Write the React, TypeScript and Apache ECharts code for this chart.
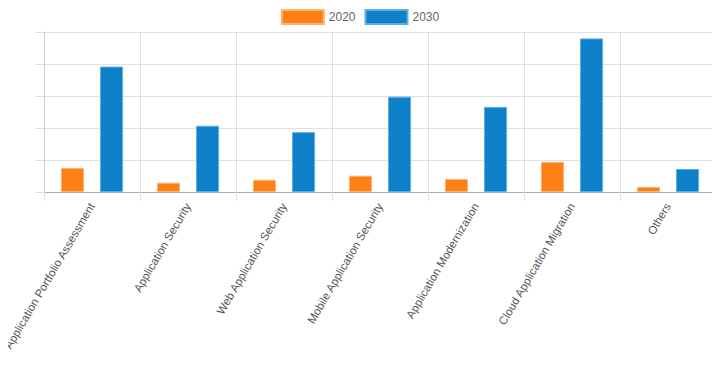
import React, { useEffect, useRef } from "react";
import * as echarts from "echarts";

const categories = [
  "Application Portfolio Assessment",
  "Application Security",
  "Web Application Security",
  "Mobile Application Security",
  "Application Modernization",
  "Cloud Application Migration",
  "Others",
];
const values2020 = [0.75, 0.29, 0.38, 0.51, 0.41, 0.94, 0.16];
const values2030 = [3.92, 2.07, 1.87, 2.98, 2.66, 4.8, 0.72];
const yTicks = [0, 1, 2, 3, 4, 5];

export default function App() {
  const ref = useRef<HTMLDivElement>(null);
  useEffect(() => {
    if (!ref.current) return;
    const chart = echarts.init(ref.current, undefined, { renderer: "svg" });
    chart.setOption({
      animation: false,
      textStyle: { fontFamily: "Liberation Sans, Arial, sans-serif" },
      legend: {
        top: 4,
        left: "center",
        itemWidth: 42,
        itemHeight: 14,
        itemGap: 9,
        icon: "rect",
        textStyle: { color: "#666", fontSize: 12, padding: [0, 0, 0, 0] },
        data: ["2020", "2030"],
      },
      grid: {
        left: 44,
        right: 4,
        top: 32,
        bottom: 179,
        containLabel: false,
        outerBoundsMode: "none",
      },
      xAxis: {
        type: "category",
        data: categories,
        boundaryGap: true,
        axisLine: { show: true, lineStyle: { color: "#aaa", width: 1 } },
        axisTick: { show: true, length: 9, lineStyle: { color: "#e0e0e0" } },
        splitLine: { show: true, lineStyle: { color: "#e0e0e0" } },
        axisLabel: {
          rotate: 59.5,
          interval: 0,
          color: "#555",
          fontSize: 11.5,
          margin: 12,
        },
      },
      yAxis: {
        type: "value",
        min: yTicks[0],
        max: yTicks[yTicks.length - 1],
        interval: 1,
        axisLine: { show: true, lineStyle: { color: "#ccc" } },
        axisTick: { show: true, length: 9, lineStyle: { color: "#e0e0e0" } },
        axisLabel: { show: false },
        splitLine: { show: true, lineStyle: { color: "#e0e0e0" } },
      },
      series: [
        {
          name: "2020",
          type: "bar",
          data: values2020,
          barWidth: 23,
          barGap: "70%",
          itemStyle: { color: "#fe7f13", borderColor: "#ffb572", borderWidth: 1 },
        },
        {
          name: "2030",
          type: "bar",
          data: values2030,
          barWidth: 23,
          barGap: "70%",
          itemStyle: { color: "#0e80ca", borderColor: "#5eaee3", borderWidth: 1 },
        },
      ],
    });
    return () => chart.dispose();
  }, []);
  return <div ref={ref} style={{ width: 720, height: 371, margin: -8 }} />;
}
